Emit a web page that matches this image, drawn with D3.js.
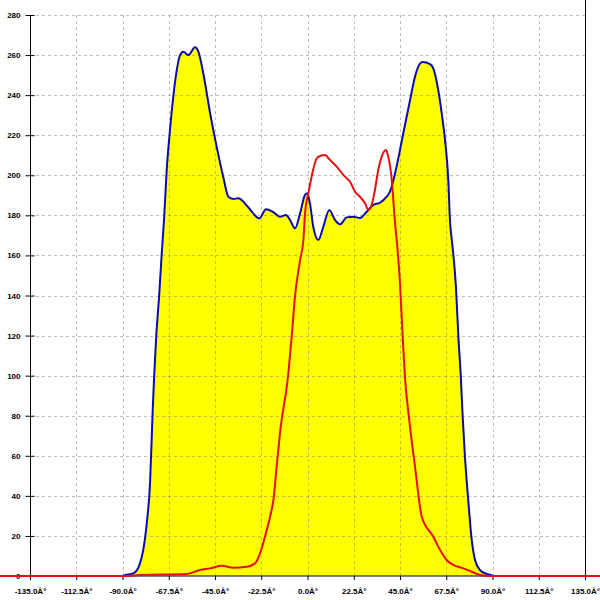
<!DOCTYPE html>
<html>
<head>
<meta charset="utf-8">
<script src="https://cdn.jsdelivr.net/npm/d3@7"></script>
<style>
  html, body { margin: 0; padding: 0; background: #fff; }
  svg { display: block; }
</style>
</head>
<body>
<svg id="chart" width="600" height="600"></svg>
<script>
// ---- data ----
const xTickValues = [-135, -112.5, -90, -67.5, -45, -22.5, 0, 22.5, 45, 67.5, 90, 112.5, 135];
const xTickLabels = ["-135.0Â°", "-112.5Â°", "-90.0Â°", "-67.5Â°", "-45.0Â°", "-22.5Â°", "0.0Â°", "22.5Â°", "45.0Â°", "67.5Â°", "90.0Â°", "112.5Â°", "135.0Â°"];
const yTickValues = [0, 20, 40, 60, 80, 100, 120, 140, 160, 180, 200, 220, 240, 260, 280];

// blue series (filled yellow): [angle, value]
const blueSeries = [
  [-90, 0], [-89.6, 0.2], [-84.7, 1.3], [-81.5, 6.3], [-79.9, 13], [-78.2, 26.3], [-76.6, 46.3],
  [-75.3, 82.9], [-74.6, 99.5], [-73.6, 119.4], [-72.2, 139.4], [-70.9, 161.1], [-69.8, 177.7],
  [-68.5, 202.6], [-66.9, 222.6], [-65.3, 239.2], [-63.6, 252.5], [-62.0, 260.0], [-60.4, 261.7],
  [-58.0, 260.0], [-54.7, 263.9], [-53.1, 261.7], [-50.7, 250.9], [-47.4, 231.1], [-44.2, 214.3],
  [-41.0, 199.3], [-38.5, 189.3], [-36.1, 188.2], [-33.7, 188.5], [-29.6, 185.0], [-26.4, 181.0],
  [-23.4, 178.5], [-20.2, 183.0], [-16.9, 181.8], [-13.4, 179.3], [-10.5, 180.2], [-8.5, 177.7],
  [-6.1, 173.5], [-3.6, 181.0], [-1.2, 190.2], [-0.1, 191.0], [1.2, 186.0], [2.8, 174.3],
  [5.3, 167.7], [7.7, 174.3], [10.6, 182.7], [13.4, 177.7], [15.8, 175.5], [19.1, 179.0],
  [22.3, 179.3], [25.5, 178.7], [28.8, 181.8], [32.0, 185.2], [35.3, 186.3], [38.5, 189.3],
  [40.1, 191.8], [42.6, 201.0], [45.0, 212.6], [46.6, 221.0], [49.9, 237.6], [52.3, 249.2],
  [53.9, 254.2], [56.0, 256.5], [59.6, 255.5], [61.2, 253.4], [63.6, 242.6], [65.3, 230.9],
  [66.9, 217.6], [68.5, 197.6], [69.3, 177.7], [70.2, 167.7], [70.9, 161.1], [72.2, 144.4],
  [73.4, 119.4], [74.5, 101.2], [75.5, 79.5], [76.6, 59.5], [78.2, 37.9], [79.9, 18.0],
  [81.5, 8.0], [83.9, 3.0], [87.2, 1.0], [90.4, 0.15]
];

// red series: [angle, value]
const redSeries = [
  [-150, 0], [-89.6, 0], [-81.5, 0.5], [-58.8, 1.0], [-52.3, 3.0], [-47.4, 3.8], [-41.7, 5.1],
  [-36.1, 4.1], [-29.6, 4.6], [-25.5, 6.3], [-23.1, 11.3], [-20.7, 19.6], [-18.2, 29.6],
  [-16.6, 37.9], [-15.0, 54.6], [-13.4, 71.2], [-9.3, 101.2], [-7.7, 119.4],
  [-6.1, 139.4], [-3.6, 157.7], [-2.0, 167.7], [-1.2, 181.0], [0.4, 191.0], [2.0, 199.3],
  [4.5, 208.5], [6.1, 209.6], [8.5, 210.1], [11.0, 207.6], [14.2, 204.3], [18.2, 199.3],
  [20.7, 196.8], [23.1, 191.8], [25.5, 189.3], [28.0, 186.0], [29.6, 182.7], [31.2, 185.2],
  [32.8, 192.7], [34.4, 202.6], [36.1, 209.3], [38.2, 212.6], [39.3, 209.3], [41.0, 197.6],
  [42.6, 176.0], [43.4, 167.7], [45.0, 146.1], [46.3, 119.4], [47.4, 99.5], [49.5, 77.9],
  [52.3, 54.6], [55.6, 29.6], [61.2, 19.6], [64.5, 13.0], [67.7, 8.0],
  [70.9, 5.5], [75.8, 3.8], [79.9, 2.1], [83.9, 0.5], [88.8, 0], [150, 0]
];

// ---- drawing ----
const svg = d3.select("#chart");
const x = d3.scaleLinear().domain([-135, 135]).range([30, 585]);
const y = d3.scaleLinear().domain([0, 280]).range([576, 15]);

// yellow area
const area = d3.area()
  .x(d => x(d[0])).y0(y(0)).y1(d => y(d[1]))
  .curve(d3.curveMonotoneX);
svg.append("path").datum(blueSeries)
  .attr("d", area).attr("fill", "#ffff00");

// grid
const grid = svg.append("g")
  .attr("stroke", "#808080").attr("stroke-opacity", 0.5)
  .attr("stroke-dasharray", "3,3").attr("stroke-width", 1);
grid.selectAll("line.h").data(yTickValues.filter(v => v > 0)).enter().append("line")
  .attr("x1", x(-135)).attr("x2", x(135))
  .attr("y1", d => Math.round(y(d)) + 0.5).attr("y2", d => Math.round(y(d)) + 0.5);
grid.selectAll("line.v").data(xTickValues.filter(v => v > -135 && v < 135)).enter().append("line")
  .attr("y1", y(280)).attr("y2", y(0))
  .attr("x1", d => Math.round(x(d)) + 0.5).attr("x2", d => Math.round(x(d)) + 0.5);

// lines
const line = d3.line().x(d => x(d[0])).y(d => y(d[1])).curve(d3.curveMonotoneX);
svg.append("path").datum(blueSeries)
  .attr("d", line).attr("fill", "none")
  .attr("stroke", "#0a0ab0").attr("stroke-width", 2);

// axes
const fontFam = "'Liberation Sans', Arial, sans-serif";
const yAxis = svg.append("g")
  .attr("transform", `translate(${Math.round(x(-135)) + 0.5},0)`)
  .call(d3.axisLeft(y).tickValues(yTickValues).tickFormat(d3.format("d")).tickSize(5).tickPadding(4));
yAxis.select(".domain").attr("d", `M0,${y(280)}V${y(0) + 4}`).attr("stroke", "#000");
yAxis.selectAll(".tick line").attr("x1", -5).attr("x2", 4).attr("stroke", "#000");
yAxis.selectAll(".tick text")
  .attr("x", -10).attr("dy", "0.32em")
  .attr("font-family", fontFam).attr("font-size", 8).attr("font-weight", "bold").attr("fill", "#000");

const xAxis = svg.append("g")
  .attr("transform", `translate(0,${y(0)})`)
  .call(d3.axisBottom(x).tickValues(xTickValues)
    .tickFormat((d, i) => xTickLabels[i]).tickSize(4));
xAxis.select(".domain").attr("d", `M${x(-135)},0H${x(135)}`).attr("stroke", "#000");
xAxis.selectAll(".tick line").attr("stroke", "#000");
xAxis.selectAll(".tick text")
  .attr("y", 18).attr("dy", 0)
  .attr("font-family", fontFam).attr("font-size", 8).attr("font-weight", "bold").attr("fill", "#000");

// right border
svg.append("line")
  .attr("x1", Math.round(x(135)) + 0.5).attr("x2", Math.round(x(135)) + 0.5)
  .attr("y1", 0).attr("y2", y(0) + 4)
  .attr("stroke", "#000").attr("stroke-width", 1);

// red line on top
svg.append("path").datum(redSeries)
  .attr("d", line).attr("fill", "none")
  .attr("stroke", "#e41010").attr("stroke-width", 2);
</script>
</body>
</html>
